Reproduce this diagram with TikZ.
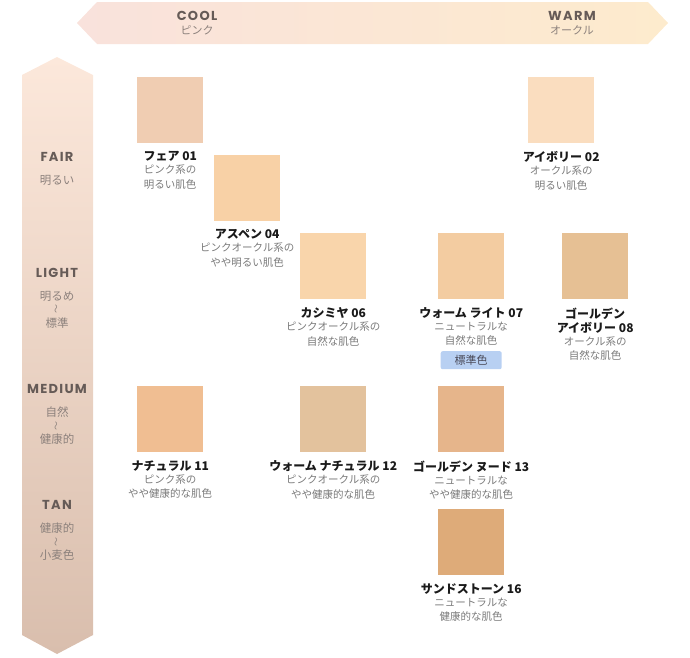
\documentclass[tikz,border=0pt]{standalone}
\usepackage{fontspec}
\newfontfamily\cjk{Noto Sans CJK JP}
\newfontfamily\eng{Poppins}[LetterSpace=10]
\usetikzlibrary{positioning}
\definecolor{c01}{HTML}{F0CDB2}
\definecolor{c02}{HTML}{FADDBF}
\definecolor{c04}{HTML}{F8D1A6}
\definecolor{c06}{HTML}{F9D5AB}
\definecolor{c07}{HTML}{F3CCA1}
\definecolor{c08}{HTML}{E6C094}
\definecolor{c11}{HTML}{F0BE92}
\definecolor{c12}{HTML}{E3C29D}
\definecolor{c13}{HTML}{E6B58B}
\definecolor{c16}{HTML}{DEAB79}
\definecolor{coolpink}{HTML}{F9E2DC}
\definecolor{warmbeige}{HTML}{FDEBCD}
\definecolor{fairtop}{HTML}{FCE8DB}
\definecolor{tanbottom}{HTML}{D9BEAD}
\definecolor{axisgray}{HTML}{665B57}
\definecolor{axisjpgray}{HTML}{8C817C}
\definecolor{namegray}{HTML}{1A1A1A}
\definecolor{descgray}{HTML}{7A7A7A}
\definecolor{badgeblue}{HTML}{B8D0F2}
\definecolor{badgetext}{HTML}{4A4A58}

\begin{document}
\begin{tikzpicture}[x=1pt,y=-1pt,
		tone/.style={minimum size=66pt, inner sep=0pt, anchor=north west},
		tonename/.style={font=\cjk\bfseries\fontsize{12}{14}\selectfont, text=namegray, inner sep=0pt, align=center},
		tonedesc/.style={font=\cjk\fontsize{10.5}{14.5}\selectfont, text=descgray, inner sep=0pt, align=center},
		axislabel/.style={font=\eng\bfseries\fontsize{13}{14}\selectfont, text=axisgray, inner sep=0pt},
		axissub/.style={font=\cjk\fontsize{11.5}{13.5}\selectfont, text=axisjpgray, inner sep=0pt, align=center}]
		\useasboundingbox (0,0) rectangle (690,657);
		\newcommand{\wave}{\rotatebox{90}{\fontsize{9}{9}\selectfont ～}}
		
		\shade[left color=coolpink, right color=warmbeige]
			(77,23) -- (97,2) -- (648,2) -- (668,23) -- (648,44) -- (97,44) -- cycle;
		\shade[top color=fairtop, bottom color=tanbottom]
			(57,57) -- (93,75) -- (93,635) -- (57,654) -- (22,635) -- (22,75) -- cycle;
		
		\node[axislabel] (cool) at (197,16) {COOL};
		\node[axissub, font=\cjk\fontsize{11}{13}\selectfont, below=5pt of cool] (pink) {ピンク};
		\node[axislabel] (warm) at (572,16) {WARM};
		\node[axissub, font=\cjk\fontsize{11}{13}\selectfont, below=5pt of warm] (ochre) {オークル};
		
		\node[axislabel] (fair) at (57,157) {FAIR};
		\node[axissub, below=13pt of fair] (fairjp) {明るい};
		\node[axislabel] (light) at (57,273) {LIGHT};
		\node[axissub, below=13pt of light] (lightjp) {明るめ\\\wave\\標準};
		\node[axislabel] (medium) at (57,389) {MEDIUM};
		\node[axissub, below=13pt of medium] (mediumjp) {自然\\\wave\\健康的};
		\node[axislabel] (tan) at (57,505) {TAN};
		\node[axissub, below=13pt of tan] (tanjp) {健康的\\\wave\\小麦色};
		
		\node[tone, fill=c01] (t01) at (137,77) {};
		\node[tonename, below=8pt of t01] (n01) {フェア 01};
		\node[tonedesc, below=3pt of n01] (d01) {ピンク系の\\明るい肌色};
		
		\node[tone, fill=c02] (t02) at (528,77) {};
		\node[tonename, below=8pt of t02] (n02) {アイボリー 02};
		\node[tonedesc, below=3pt of n02] (d02) {オークル系の\\明るい肌色};
		
		\node[tone, fill=c04] (t04) at (214,155) {};
		\node[tonename, below=8pt of t04] (n04) {アスペン 04};
		\node[tonedesc, below=3pt of n04] (d04) {ピンクオークル系の\\やや明るい肌色};
		
		\node[tone, fill=c06] (t06) at (300,233) {};
		\node[tonename, below=8pt of t06] (n06) {カシミヤ 06};
		\node[tonedesc, below=3pt of n06] (d06) {ピンクオークル系の\\自然な肌色};
		
		\node[tone, fill=c07] (t07) at (438,233) {};
		\node[tonename, below=8pt of t07] (n07) {ウォーム ライト 07};
		\node[tonedesc, below=3pt of n07] (d07) {ニュートラルな\\自然な肌色};
		\node[below=5pt of d07, fill=badgeblue, rounded corners=2pt, minimum width=61pt, minimum height=18pt,
			inner sep=0pt, font=\cjk\fontsize{11}{13}\selectfont, text=badgetext] (std) {標準色};
		
		\node[tone, fill=c08] (t08) at (562,233) {};
		\node[tonename, below=8pt of t08] (n08) {ゴールデン\\アイボリー 08};
		\node[tonedesc, below=3pt of n08] (d08) {オークル系の\\自然な肌色};
		
		\node[tone, fill=c11] (t11) at (137,386) {};
		\node[tonename, below=8pt of t11] (n11) {ナチュラル 11};
		\node[tonedesc, below=3pt of n11] (d11) {ピンク系の\\やや健康的な肌色};
		
		\node[tone, fill=c12] (t12) at (300,386) {};
		\node[tonename, below=8pt of t12] (n12) {ウォーム ナチュラル 12};
		\node[tonedesc, below=3pt of n12] (d12) {ピンクオークル系の\\やや健康的な肌色};
		
		\node[tone, fill=c13] (t13) at (438,386) {};
		\node[tonename, below=8pt of t13] (n13) {ゴールデン ヌード 13};
		\node[tonedesc, below=3pt of n13] (d13) {ニュートラルな\\やや健康的な肌色};
		
		\node[tone, fill=c16] (t16) at (438,509) {};
		\node[tonename, below=8pt of t16] (n16) {サンドストーン 16};
		\node[tonedesc, below=3pt of n16] (d16) {ニュートラルな\\健康的な肌色};
	\end{tikzpicture}
\end{document}
